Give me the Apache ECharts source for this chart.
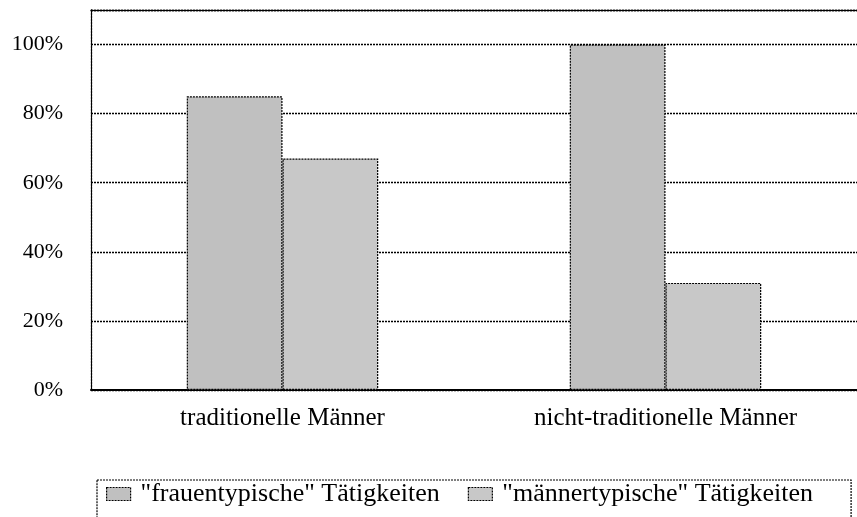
<!DOCTYPE html>
<html>
<head>
<meta charset="utf-8">
<script src="https://cdn.jsdelivr.net/npm/echarts@6/dist/echarts.min.js"></script>
<style>
  html, body { margin: 0; padding: 0; background: #fff; }
  #chart { width: 857px; height: 517px; }
</style>
</head>
<body>
<div id="chart"></div>
<script>
// Daten
const categories = ['traditionelle Männer', 'nicht-traditionelle Männer'];
const frauentypisch = [85, 100];
const maennertypisch = [67, 31];
const seriesNames = ['"frauentypische" Tätigkeiten', '"männertypische" Tätigkeiten'];

const chart = echarts.init(document.getElementById('chart'));
const serif = '"Liberation Serif", "DejaVu Serif", serif';
const dots = [2, 1];

const barStyle = color => ({
    color: color,
    borderColor: '#000',
    borderWidth: 1.2,
    borderType: dots
});

chart.setOption({
    animation: false,
    grid: {
        left: 91,
        top: 10,
        width: 774,
        bottom: 127
    },
    legend: {
        left: 97,
        top: 480,
        width: 745,
        padding: [1, 38, 30, 9],
        itemWidth: 24,
        itemHeight: 13,
        itemGap: 28,
        icon: 'rect',
        borderColor: '#000',
        borderWidth: 1.2,
        borderType: dots,
        itemStyle: { borderColor: '#000', borderWidth: 1.2, borderType: dots },
        textStyle: {
            fontFamily: serif,
            fontSize: 26,
            color: '#000',
            padding: [0, 0, 0, 5]
        },
        data: seriesNames
    },
    xAxis: [{
        type: 'category',
        data: categories,
        axisLine: { lineStyle: { color: '#000', width: 2 } },
        axisTick: { show: false },
        axisLabel: {
            fontFamily: serif,
            fontSize: 25,
            color: '#000',
            margin: 16
        }
    }, {
        type: 'category',
        position: 'top',
        data: categories,
        axisLine: { lineStyle: { color: '#000', width: 1.3, type: dots } },
        axisTick: { show: false },
        axisLabel: { show: false }
    }],
    yAxis: {
        type: 'value',
        min: 0,
        max: 110,
        interval: 20,
        axisLine: { show: true, lineStyle: { color: '#000', width: 1.3, type: dots } },
        axisTick: { show: false },
        splitLine: { lineStyle: { color: '#000', width: 1.3, type: dots } },
        axisLabel: {
            fontFamily: serif,
            fontSize: 22,
            color: '#000',
            margin: 28,
            showMaxLabel: false,
            formatter: v => (v > 100 ? '' : v + '%')
        }
    },
    series: [{
        name: seriesNames[0],
        type: 'bar',
        data: frauentypisch,
        barGap: '0%',
        barCategoryGap: '50%',
        itemStyle: barStyle('#c0c0c0')
    }, {
        name: seriesNames[1],
        type: 'bar',
        data: maennertypisch,
        itemStyle: barStyle('#c8c8c8')
    }]
});
</script>
</body>
</html>
